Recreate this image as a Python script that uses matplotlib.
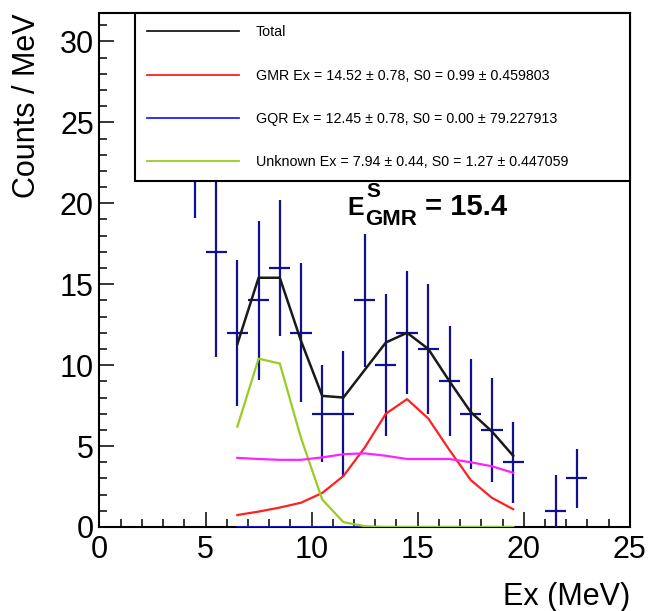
import numpy as np
import matplotlib
matplotlib.use('Agg')
import matplotlib.pyplot as plt
from matplotlib.ticker import MultipleLocator

plt.rcParams['font.family'] = ['Liberation Sans', 'DejaVu Sans']

# data points (bin centers, counts / MeV, errors)
ex_pts = [4.5, 5.5, 6.5, 7.5, 8.5, 9.5, 10.5, 11.5, 12.5, 13.5, 14.5, 15.5, 16.5, 17.5, 18.5, 19.5, 21.5, 22.5]
counts = [25, 17, 12, 14, 16, 12, 7, 7, 14, 10, 12, 11, 9, 7, 6, 4, 1, 3]
errs = [5.9, 6.5, 4.5, 4.9, 4.2, 4.3, 3.0, 3.9, 4.1, 4.4, 3.8, 4.0, 3.4, 3.4, 3.2, 2.5, 2.2, 1.8]

# fit components at bin centers
ex_fit = [6.5, 7.5, 8.5, 9.5, 10.5, 11.5, 12.5, 13.5, 14.5, 15.5, 16.5, 17.5, 18.5, 19.5]
total = [11.3, 15.4, 15.4, 11.5, 8.1, 8.0, 9.7, 11.4, 12.0, 11.0, 9.0, 7.1, 5.9, 4.4]
gmr = [0.74, 0.95, 1.2, 1.5, 2.1, 3.15, 4.9, 7.0, 7.9, 6.7, 4.75, 2.9, 1.8, 1.1]
gqr = [0, 0, 0, 0, 0, 0, 0, 0, 0, 0, 0, 0, 0, 0]
unknown = [6.2, 10.4, 10.1, 5.5, 1.7, 0.3, 0.05, 0, 0, 0, 0, 0, 0, 0]
bkg = [4.27, 4.2, 4.15, 4.15, 4.3, 4.5, 4.55, 4.4, 4.2, 4.2, 4.2, 4.0, 3.75, 3.35]

labels = ['Total',
          'GMR Ex = 14.52 \u00b1 0.78, S0 = 0.99 \u00b1 0.459803',
          'GQR Ex = 12.45 \u00b1 0.78, S0 = 0.00 \u00b1 79.227913',
          'Unknown Ex = 7.94 \u00b1 0.44, S0 = 1.27 \u00b1 0.447059']

e_gmr = 15.4

fig = plt.figure(figsize=(6.5, 6.11), dpi=100)
ax = fig.add_axes([0.153, 0.1375, 0.816, 0.841])

ax.errorbar(ex_pts, counts, xerr=0.5, yerr=errs, fmt='none', ecolor='#101090',
            elinewidth=1.6, capsize=0, zorder=3)

l1, = ax.plot(ex_fit, total, color='#1a1a1a', lw=1.8, zorder=4)
l2, = ax.plot(ex_fit, gmr, color='#ff2020', lw=1.6, zorder=4)
l3, = ax.plot(ex_fit, gqr, color='#2020ff', lw=1.8, zorder=4)
l4, = ax.plot(ex_fit, unknown, color='#99cc22', lw=1.6, zorder=4)
ax.plot(ex_fit, bkg, color='#ff22ff', lw=1.6, zorder=4)

leg = ax.legend([l1, l2, l3, l4], labels, loc='upper left',
                bbox_to_anchor=(0.067, 0.669, 0.933, 0.331), mode='expand',
                borderaxespad=0, fontsize=10.3, handlelength=6.4, handletextpad=1.2,
                labelspacing=2.05, borderpad=0.85, fancybox=False, framealpha=1,
                edgecolor='black')
leg.get_frame().set_linewidth(1.5)
leg.set_zorder(10)
for h in leg.get_lines():
    h.set_linewidth(1.3)

# E^S_GMR label built from pieces, ROOT style
ex0, ey0 = 11.7, 19.26
ax.text(ex0, ey0, 'E', fontsize=18, fontweight='bold')
ax.annotate('S', (ex0, ey0), xytext=(19, 18), textcoords='offset pixels',
            fontsize=15, fontweight='bold')
ax.annotate('GMR', (ex0, ey0), xytext=(17, -10), textcoords='offset pixels',
            fontsize=16, fontweight='bold')
ax.annotate('= %.1f' % e_gmr, (ex0, ey0), xytext=(77, 0), textcoords='offset pixels',
            fontsize=21, fontweight='bold')

ax.set_xlim(0, 25)
ax.set_ylim(0, 31.75)
ax.xaxis.set_major_locator(MultipleLocator(5))
ax.xaxis.set_minor_locator(MultipleLocator(1))
ax.yaxis.set_major_locator(MultipleLocator(5))
ax.yaxis.set_minor_locator(MultipleLocator(1))
ax.tick_params(which='major', direction='in', length=11, width=1.1, labelsize=22, pad=4)
ax.tick_params(which='minor', direction='in', length=6, width=1.1)
ax.tick_params(axis='x', which='major', pad=6)
ax.tick_params(top=False, right=False)
for s in ax.spines.values():
    s.set_linewidth(1.5)

ax.set_xlabel('Ex (MeV)', fontsize=22, loc='right', labelpad=12)
ax.set_ylabel('Counts / MeV', fontsize=22, loc='top', labelpad=13)

fig.savefig('out.png', dpi=100)
